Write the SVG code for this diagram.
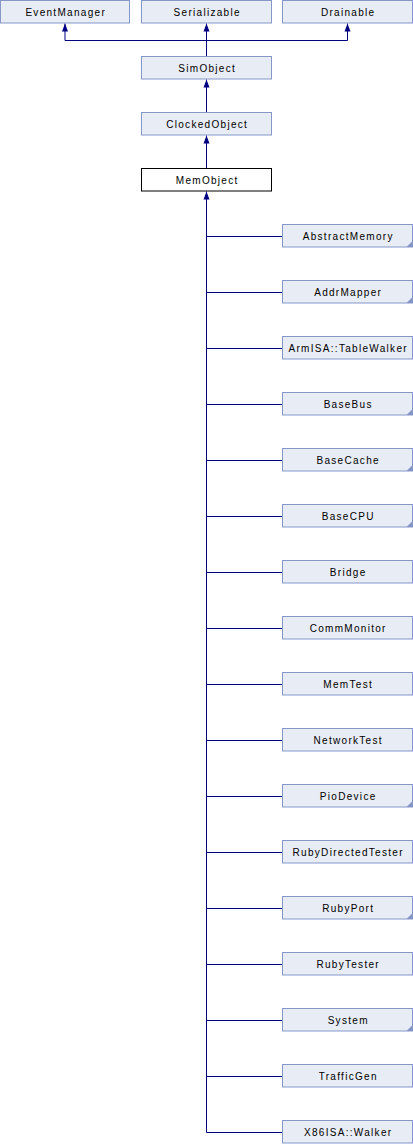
<svg xmlns="http://www.w3.org/2000/svg" width="413" height="1144" viewBox="0 0 413 1144">
<style>
.b{fill:#E8ECF5;stroke:#8497C8;stroke-width:1}
.w{fill:#FFFFFF;stroke:#000000;stroke-width:1}
.t{font-family:"Liberation Sans",Arial,sans-serif;font-size:10px;letter-spacing:1.3px;text-anchor:middle;fill:#000000}
.c{fill:none;stroke:#000080;stroke-width:1}
.h{fill:#000080}
.f{fill:#8497C8}
</style>
<defs>
<path id="ah" d="M0,0 L3,8 L-3,8 Z"/>
</defs>
<g id="connectors">
<path class="c" d="M65,23.5 V40.5 H347.5 V23.5"/>
<path class="c" d="M206.5,23.5 V56.5"/>
<path class="c" d="M206.5,79.5 V112.5"/>
<path class="c" d="M206.5,135.5 V168.5"/>
<path class="c" d="M206.5,191.5 V1132.5"/>
<path class="c" d="M206.5,236.5 H282.5 M206.5,292.5 H282.5 M206.5,348.5 H282.5 M206.5,404.5 H282.5 M206.5,460.5 H282.5 M206.5,516.5 H282.5 M206.5,572.5 H282.5 M206.5,628.5 H282.5 M206.5,684.5 H282.5 M206.5,740.5 H282.5 M206.5,796.5 H282.5 M206.5,852.5 H282.5 M206.5,908.5 H282.5 M206.5,964.5 H282.5 M206.5,1020.5 H282.5 M206.5,1076.5 H282.5 M206.5,1132.5 H282.5"/>
<use href="#ah" class="h" x="65" y="23.5"/>
<use href="#ah" class="h" x="206.5" y="23.5"/>
<use href="#ah" class="h" x="347.5" y="23.5"/>
<use href="#ah" class="h" x="206.5" y="79.5"/>
<use href="#ah" class="h" x="206.5" y="135.5"/>
<use href="#ah" class="h" x="206.5" y="191.5"/>
</g>
<g id="EventManager"><rect class="b" x="0.5" y="0.5" width="129" height="22.5"/><text class="t" x="65.7" y="15.5">EventManager</text></g>
<g id="Serializable"><rect class="b" x="141.5" y="0.5" width="130" height="22.5"/><text class="t" x="207.2" y="15.5">Serializable</text></g>
<g id="Drainable"><rect class="b" x="282.5" y="0.5" width="130" height="22.5"/><text class="t" x="348.2" y="15.5">Drainable</text></g>
<g id="SimObject"><rect class="b" x="141.5" y="56.5" width="130" height="22.5"/><text class="t" x="207.2" y="71.5">SimObject</text></g>
<g id="ClockedObject"><rect class="b" x="141.5" y="112.5" width="130" height="22.5"/><text class="t" x="207.2" y="127.5">ClockedObject</text></g>
<g id="MemObject"><rect class="w" x="141.5" y="168.5" width="130" height="22.5"/><text class="t" x="207.2" y="183.5">MemObject</text></g>
<g id="AbstractMemory"><rect class="b" x="282.5" y="224.5" width="130" height="22.5"/><polygon class="f" points="406.5,247 412.5,247 412.5,241"/><text class="t" x="348.2" y="239.5">AbstractMemory</text></g>
<g id="AddrMapper"><rect class="b" x="282.5" y="280.5" width="130" height="22.5"/><polygon class="f" points="406.5,303 412.5,303 412.5,297"/><text class="t" x="348.2" y="295.5">AddrMapper</text></g>
<g id="ArmISA_TableWalker"><rect class="b" x="282.5" y="336.5" width="130" height="22.5"/><text class="t" x="348.2" y="351.5">ArmISA::TableWalker</text></g>
<g id="BaseBus"><rect class="b" x="282.5" y="392.5" width="130" height="22.5"/><polygon class="f" points="406.5,415 412.5,415 412.5,409"/><text class="t" x="348.2" y="407.5">BaseBus</text></g>
<g id="BaseCache"><rect class="b" x="282.5" y="448.5" width="130" height="22.5"/><polygon class="f" points="406.5,471 412.5,471 412.5,465"/><text class="t" x="348.2" y="463.5">BaseCache</text></g>
<g id="BaseCPU"><rect class="b" x="282.5" y="504.5" width="130" height="22.5"/><polygon class="f" points="406.5,527 412.5,527 412.5,521"/><text class="t" x="348.2" y="519.5">BaseCPU</text></g>
<g id="Bridge"><rect class="b" x="282.5" y="560.5" width="130" height="22.5"/><text class="t" x="348.2" y="575.5">Bridge</text></g>
<g id="CommMonitor"><rect class="b" x="282.5" y="616.5" width="130" height="22.5"/><text class="t" x="348.2" y="631.5">CommMonitor</text></g>
<g id="MemTest"><rect class="b" x="282.5" y="672.5" width="130" height="22.5"/><text class="t" x="348.2" y="687.5">MemTest</text></g>
<g id="NetworkTest"><rect class="b" x="282.5" y="728.5" width="130" height="22.5"/><text class="t" x="348.2" y="743.5">NetworkTest</text></g>
<g id="PioDevice"><rect class="b" x="282.5" y="784.5" width="130" height="22.5"/><polygon class="f" points="406.5,807 412.5,807 412.5,801"/><text class="t" x="348.2" y="799.5">PioDevice</text></g>
<g id="RubyDirectedTester"><rect class="b" x="282.5" y="840.5" width="130" height="22.5"/><text class="t" x="348.2" y="855.5">RubyDirectedTester</text></g>
<g id="RubyPort"><rect class="b" x="282.5" y="896.5" width="130" height="22.5"/><polygon class="f" points="406.5,919 412.5,919 412.5,913"/><text class="t" x="348.2" y="911.5">RubyPort</text></g>
<g id="RubyTester"><rect class="b" x="282.5" y="952.5" width="130" height="22.5"/><text class="t" x="348.2" y="967.5">RubyTester</text></g>
<g id="System"><rect class="b" x="282.5" y="1008.5" width="130" height="22.5"/><polygon class="f" points="406.5,1031 412.5,1031 412.5,1025"/><text class="t" x="348.2" y="1023.5">System</text></g>
<g id="TrafficGen"><rect class="b" x="282.5" y="1064.5" width="130" height="22.5"/><text class="t" x="348.2" y="1079.5">TrafficGen</text></g>
<g id="X86ISA_Walker"><rect class="b" x="282.5" y="1120.5" width="130" height="22.5"/><text class="t" x="348.2" y="1135.5">X86ISA::Walker</text></g>
</svg>
